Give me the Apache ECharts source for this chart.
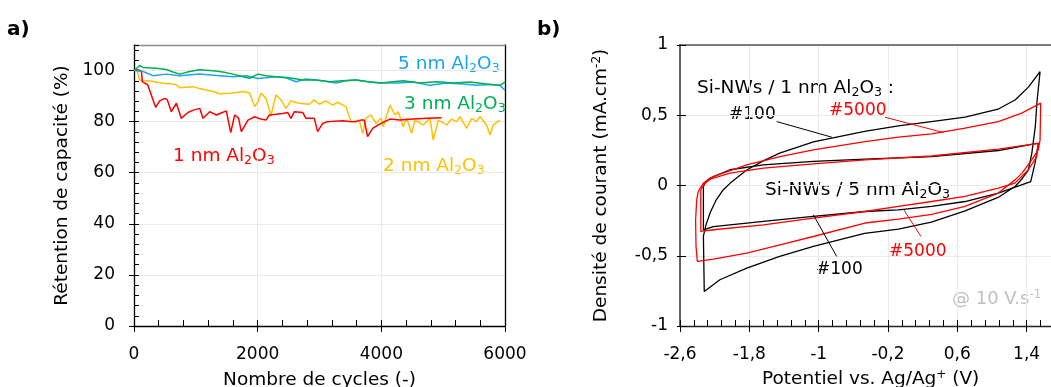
<!DOCTYPE html>
<html><head><meta charset="utf-8">
<script src="https://cdn.jsdelivr.net/npm/echarts@6/dist/echarts.min.js"></script>
<style>html,body{margin:0;padding:0;background:#fff}#c{width:1051px;height:387px}</style>
</head><body><div id="c"></div>
<script>
// ---------- Panel a : capacity retention vs cycles ----------
const cycles1nm = [0,60,120,134,221,350,415,496,540,604,685,765,873,960,1062,1116,1224,1331,1420,1493,1564,1628,1690,1736,1843,1951,2050,2135,2188,2300,2404,2485,2539,2593,2728,2781,2916,2970,3051,3132,3250,3375,3480,3590,3670,3724,3778,3859,3994,4140,4301,4517,4733,4975];
const retention1nm = [100,100.3,99.8,95.7,94.4,85.6,88.1,89.1,88.5,83.9,87.2,81.3,83.6,84.5,85.2,81.3,83.9,82.6,83.5,84.2,75.7,82.6,81.5,76.1,80.6,81.9,81,80.6,82.6,82.9,83.2,83.6,81.3,83.9,83.6,81.3,81.3,76.1,79.3,80,80.2,80.3,80.1,80,80.6,80.6,74.1,77.4,79.3,81,80.6,81,81.3,81.5];

const cycles2nm = [0,38,92,200,307,469,600,685,739,954,1060,1169,1280,1385,1601,1763,1871,1951,2005,2054,2135,2215,2296,2377,2458,2539,2674,2835,2916,2997,3105,3213,3294,3428,3509,3590,3644,3698,3751,3832,3913,3994,4031,4140,4220,4274,4355,4409,4490,4544,4678,4786,4840,4921,5056,5137,5218,5272,5380,5461,5542,5595,5703,5757,5810,5918];
const retention2nm = [100,100.6,96.3,96,95.7,95,94.8,94.4,93.3,93.7,93,92.4,91.8,90.9,91.2,91.8,91.2,85.9,87.8,91.1,89.1,82.4,90.5,88.5,85.2,88.1,87.2,86.8,88.5,86.8,88.1,86.5,87.6,85.9,80,80.3,80.6,75.4,81.3,82.6,79.3,81.3,78,86.5,82.6,83.9,78,81.3,75.4,80.6,78.7,81.3,72.8,80.6,78.7,81,80,82,77.4,81.3,80,82,78.7,74.8,78.7,80.5];

const cycles3nm = [0,30,92,146,361,523,620,739,900,1062,1277,1439,1601,1763,1871,2005,2135,2296,2512,2728,2943,3159,3375,3590,3805,3994,4140,4355,4625,4895,5164,5434,5703,5918,6000];
const retention3nm = [100,99.6,102,101.2,100.9,100.4,99.5,98.6,99.6,100.3,99.9,99.4,98.6,97.6,97,98.6,98,97.6,97.2,96.3,96.3,95.6,96,96.3,95.5,95.1,95.5,96,95.1,95.6,95.1,95.5,94.7,94.2,95.5];

const cycles5nm = [0,38,146,307,523,739,1062,1385,1601,1816,2005,2135,2296,2458,2620,2781,3051,3266,3428,3590,3805,3994,4248,4517,4786,5056,5326,5542,5757,5918,6000];
const retention5nm = [100,99.9,99.6,98,98.6,98,98.6,98,97.6,98,96.9,97.2,97.6,97.2,95.6,96.7,96,95.1,96,96.3,95.6,95.1,95.1,95.5,94.2,95.1,94.7,94.2,94.5,94.2,92.3];

const cycleTicks = [0, 2000, 4000, 6000];
const retentionTicks = [0, 20, 40, 60, 80, 100];

// ---------- Panel b : cyclic voltammograms ----------
const potential1nm100 = [-2.33,-2.30,-2.25,-2.18,-2.10,-2.02,-1.83,-1.64,-1.45,-1.06,-0.47,-0.08,0.30,0.69,1.07,1.27,1.42,1.555,1.52,1.50,1.46,1.42,1.35,1.27,1.07,0.69,0.30,-0.08,-0.47,-1.06,-1.45,-1.83,-2.14,-2.32,-2.33];
const current1nm100 = [-0.36,-0.28,-0.19,-0.10,-0.03,0.017,0.11,0.175,0.23,0.31,0.385,0.425,0.455,0.486,0.543,0.61,0.70,0.81,0.60,0.42,0.23,0.11,0.05,-0.005,-0.085,-0.18,-0.26,-0.31,-0.34,-0.434,-0.505,-0.588,-0.671,-0.754,-0.36];

const potential1nm5000 = [-2.39,-2.33,-2.215,-1.83,-1.446,-1.062,-0.465,-0.081,0.304,0.689,1.073,1.343,1.562,1.555,1.535,1.458,1.35,1.266,1.073,0.689,0.304,-0.081,-0.465,-1.062,-1.446,-1.83,-2.215,-2.40,-2.415,-2.42,-2.407,-2.39];
const current1nm5000 = [-0.043,0.017,0.064,0.147,0.206,0.254,0.313,0.344,0.368,0.408,0.455,0.515,0.586,0.325,0.254,0.183,0.09,0.04,-0.054,-0.149,-0.205,-0.24,-0.267,-0.363,-0.422,-0.481,-0.524,-0.54,-0.434,-0.245,-0.102,-0.043];

const potential5nm100 = [-2.33,-2.30,-2.254,-2.023,-1.638,-1.062,-0.465,0.304,1.073,1.535,1.497,1.447,1.073,0.689,0.304,-0.081,-0.465,-1.062,-1.638,-2.215,-2.33,-2.33];
const current5nm100 = [-0.007,0.03,0.052,0.112,0.147,0.171,0.188,0.206,0.249,0.302,0.159,0.028,-0.054,-0.114,-0.149,-0.173,-0.185,-0.22,-0.256,-0.292,-0.315,-0.007];

const potential5nm5000 = [-2.36,-2.32,-2.25,-2.023,-1.638,-1.062,-0.465,0.304,1.073,1.535,1.516,1.42,1.266,1.073,0.689,0.304,-0.081,-0.465,-1.062,-1.638,-2.215,-2.36,-2.36];
const current5nm5000 = [-0.03,0.01,0.045,0.088,0.124,0.154,0.183,0.21,0.259,0.30,0.206,0.112,0.017,-0.018,-0.078,-0.114,-0.149,-0.185,-0.232,-0.28,-0.315,-0.327,-0.03];

// leader lines of the annotations (data coordinates)
const leader100top = [[-1.484,0.455],[-0.849,0.344]];
const leader5000top = [[-0.234,0.486],[0.439,0.377]];
const leader100low = [[-1.062,-0.208],[-0.792,-0.505]];
const leader5000low = [[-0.023,-0.168],[0.181,-0.363]];

const potentialTicks = [-2.6,-1.8,-1,-0.2,0.6,1.4];
const currentTicks = [-1,-0.5,0,0.5,1];

// ---------------------------------------------------------
const FONT = 'DejaVu Sans';
const zip = (a, b) => a.map((v, i) => [v, b[i]]);
const comma = v => String(Math.round(v * 10) / 10).replace('.', ',');
const C = {red:'#FF0000', orange:'#FFC000', green:'#00B050', blue:'#1BA6E8', black:'#000000', grey:'#BFBFBF'};
const GRIDC = '#EAEAEA';

function ticksOnly(base, opts) {
  return Object.assign({
    type:'value', axisLine:{show:false, onZero:false}, axisLabel:{show:false}, splitLine:{show:false}
  }, base, opts);
}

const aX = {gridIndex:0, min:0, max:6000};
const aY = {gridIndex:0, min:0, max:110};
const bX = {gridIndex:1, min:-2.6, max:1.8};
const bY = {gridIndex:1, min:-1, max:1};

function label(x, y, text, color, size, weight) {
  const rich = {
    s:{fontSize:size*0.68, padding:[size*0.55,0,0,0], fill:color, fontFamily:FONT},
    p:{fontSize:size*0.65, padding:[0,0,size*0.5,0], fill:color, fontFamily:FONT}
  };
  return {type:'text', x, y, silent:true, style:{text, fill:color, fontSize:size, fontFamily:FONT, fontWeight:weight||'normal', verticalAlign:'middle', align:'left', rich}};
}

const option = {
  animation:false,
  backgroundColor:'#fff',
  textStyle:{fontFamily:FONT},
  grid:[
    {left:134, top:45, width:371, height:281, containLabel:false, outerBoundsMode:'none'},
    {left:680, top:45, width:381.3, height:281, containLabel:false, outerBoundsMode:'none'}
  ],
  xAxis:[
    Object.assign({type:'value', interval:2000,
      name:'Nombre de cycles (-)', nameLocation:'middle', nameGap:45,
      nameTextStyle:{fontSize:18.5, color:'#000', fontFamily:FONT},
      axisLine:{show:true, onZero:false, lineStyle:{color:'#000', width:1.3}},
      axisTick:{show:true, inside:true, length:6, lineStyle:{color:'#000'}},
      axisLabel:{fontSize:17, color:'#000', margin:20, fontFamily:FONT, formatter:v => String(v)},
      splitLine:{show:true, lineStyle:{color:GRIDC}}
    }, aX),
    ticksOnly(aX, {interval:2000, position:'bottom', axisTick:{show:true, inside:false, length:6, lineStyle:{color:'#000'}}}),
    ticksOnly(aX, {interval:400, position:'bottom', axisTick:{show:true, inside:true, length:6, lineStyle:{color:'#000'}}}),
    ticksOnly(aX, {interval:2000, position:'top', axisTick:{show:false}, axisLine:{show:true, onZero:false, lineStyle:{color:'#8C8C8C', width:1.3}}}),

    Object.assign({type:'value', interval:0.8,
      name:'Potentiel vs. Ag/Ag{p|+} (V)', nameLocation:'middle', nameGap:43,
      nameTextStyle:{fontSize:18.5, color:'#000', fontFamily:FONT, rich:{p:{fontSize:12, padding:[0,0,9,0], fontFamily:FONT, color:'#000'}}},
      axisLine:{show:true, onZero:false, lineStyle:{color:'#222', width:1.3}},
      axisTick:{show:true, inside:true, length:6, lineStyle:{color:'#000'}},
      axisLabel:{fontSize:17, color:'#000', margin:20, fontFamily:FONT, showMaxLabel:false,
        formatter:v => v > 1.5 ? '' : comma(v)},
      splitLine:{show:true, lineStyle:{color:GRIDC}}
    }, bX),
    ticksOnly(bX, {interval:0.8, position:'bottom', axisTick:{show:true, inside:false, length:6, lineStyle:{color:'#000'}}}),
    ticksOnly(bX, {interval:0.16, position:'bottom', axisTick:{show:true, inside:true, length:6, lineStyle:{color:'#000'}}}),
    ticksOnly(bX, {interval:0.8, position:'top', axisTick:{show:false}, axisLine:{show:true, onZero:false, lineStyle:{color:'#555', width:1.5}}})
  ],
  yAxis:[
    Object.assign({type:'value', interval:20,
      name:'Rétention de capacité (%)', nameLocation:'middle', nameGap:62,
      nameTextStyle:{fontSize:18.5, color:'#000', fontFamily:FONT},
      axisLine:{show:true, onZero:false, lineStyle:{color:'#000', width:1.3}},
      axisTick:{show:true, inside:true, length:5, lineStyle:{color:'#000'}},
      axisLabel:{fontSize:17, color:'#000', margin:19, fontFamily:FONT, showMaxLabel:false,
        formatter:v => v > 100 ? '' : String(v)},
      splitLine:{show:true, lineStyle:{color:GRIDC}}
    }, aY),
    ticksOnly(aY, {interval:20, position:'left', axisTick:{show:true, inside:false, length:5, customValues:retentionTicks, lineStyle:{color:'#000'}}}),
    ticksOnly(aY, {interval:4, position:'left', axisTick:{show:true, inside:true, length:5, lineStyle:{color:'#000'}}}),
    ticksOnly(aY, {interval:20, position:'right', axisTick:{show:false}, axisLine:{show:true, onZero:false, lineStyle:{color:'#000', width:1.3}}}),

    Object.assign({type:'value', interval:0.5,
      name:'Densité de courant (mA.cm{p|-2})', nameLocation:'middle', nameGap:68,
      nameTextStyle:{fontSize:18.5, color:'#000', fontFamily:FONT, rich:{p:{fontSize:12, padding:[0,0,9,0], fontFamily:FONT, color:'#000'}}},
      axisLine:{show:true, onZero:false, lineStyle:{color:'#333', width:1.5}},
      axisTick:{show:true, inside:true, length:6, lineStyle:{color:'#000'}},
      axisLabel:{fontSize:17, color:'#000', margin:12, fontFamily:FONT, formatter:v => comma(v)},
      splitLine:{show:true, lineStyle:{color:GRIDC}}
    }, bY),
    ticksOnly(bY, {interval:0.5, position:'left', axisTick:{show:true, inside:false, length:3, lineStyle:{color:'#000'}}})
  ],
  series:[
    {type:'line', xAxisIndex:0, yAxisIndex:0, data:zip(cycles2nm, retention2nm), showSymbol:false, lineStyle:{color:C.orange, width:1.5}, itemStyle:{color:C.orange}},
    {type:'line', xAxisIndex:0, yAxisIndex:0, data:zip(cycles1nm, retention1nm), showSymbol:false, lineStyle:{color:C.red, width:1.5}, itemStyle:{color:C.red}},
    {type:'line', xAxisIndex:0, yAxisIndex:0, data:zip(cycles5nm, retention5nm), showSymbol:false, lineStyle:{color:C.blue, width:1.5}, itemStyle:{color:C.blue}},
    {type:'line', xAxisIndex:0, yAxisIndex:0, data:zip(cycles3nm, retention3nm), showSymbol:false, lineStyle:{color:C.green, width:1.5}, itemStyle:{color:C.green}},

    {type:'line', xAxisIndex:4, yAxisIndex:4, data:zip(potential1nm100, current1nm100), showSymbol:false, lineStyle:{color:C.black, width:1.3}},
    {type:'line', xAxisIndex:4, yAxisIndex:4, data:zip(potential5nm100, current5nm100), showSymbol:false, lineStyle:{color:C.black, width:1.3}},
    {type:'line', xAxisIndex:4, yAxisIndex:4, data:zip(potential1nm5000, current1nm5000), showSymbol:false, lineStyle:{color:C.red, width:1.3}},
    {type:'line', xAxisIndex:4, yAxisIndex:4, data:zip(potential5nm5000, current5nm5000), showSymbol:false, lineStyle:{color:C.red, width:1.3}},

    {type:'line', xAxisIndex:4, yAxisIndex:4, data:leader100top, showSymbol:false, lineStyle:{color:C.black, width:1}},
    {type:'line', xAxisIndex:4, yAxisIndex:4, data:leader5000top, showSymbol:false, lineStyle:{color:C.red, width:1}},
    {type:'line', xAxisIndex:4, yAxisIndex:4, data:leader100low, showSymbol:false, lineStyle:{color:C.black, width:1}},
    {type:'line', xAxisIndex:4, yAxisIndex:4, data:leader5000low, showSymbol:false, lineStyle:{color:C.red, width:1}}
  ],
  graphic:[
    label(7, 30, 'a)', '#000', 20, 'bold'),
    label(537, 30, 'b)', '#000', 20, 'bold'),
    label(398, 64, '5 nm Al{s|2}O{s|3}', C.blue, 18.5),
    label(404, 104, '3 nm Al{s|2}O{s|3}', C.green, 18.5),
    label(173, 156, '1 nm Al{s|2}O{s|3}', C.red, 18.5),
    label(383, 166, '2 nm Al{s|2}O{s|3}', C.orange, 18.5),
    label(697, 88, 'Si-NWs / 1 nm Al{s|2}O{s|3} :', '#000', 18.5),
    label(729, 115, '#100', '#000', 17),
    label(829, 111, '#5000', C.red, 17),
    label(765, 190, 'Si-NWs / 5 nm Al{s|2}O{s|3}', '#000', 18.5),
    label(816, 270, '#100', '#000', 17),
    label(889, 252, '#5000', C.red, 17),
    label(952, 299, '@ 10 V.s{p|-1}', C.grey, 18)
  ]
};
echarts.init(document.getElementById('c'), null, {renderer:'canvas'}).setOption(option);
</script>
</body></html>
